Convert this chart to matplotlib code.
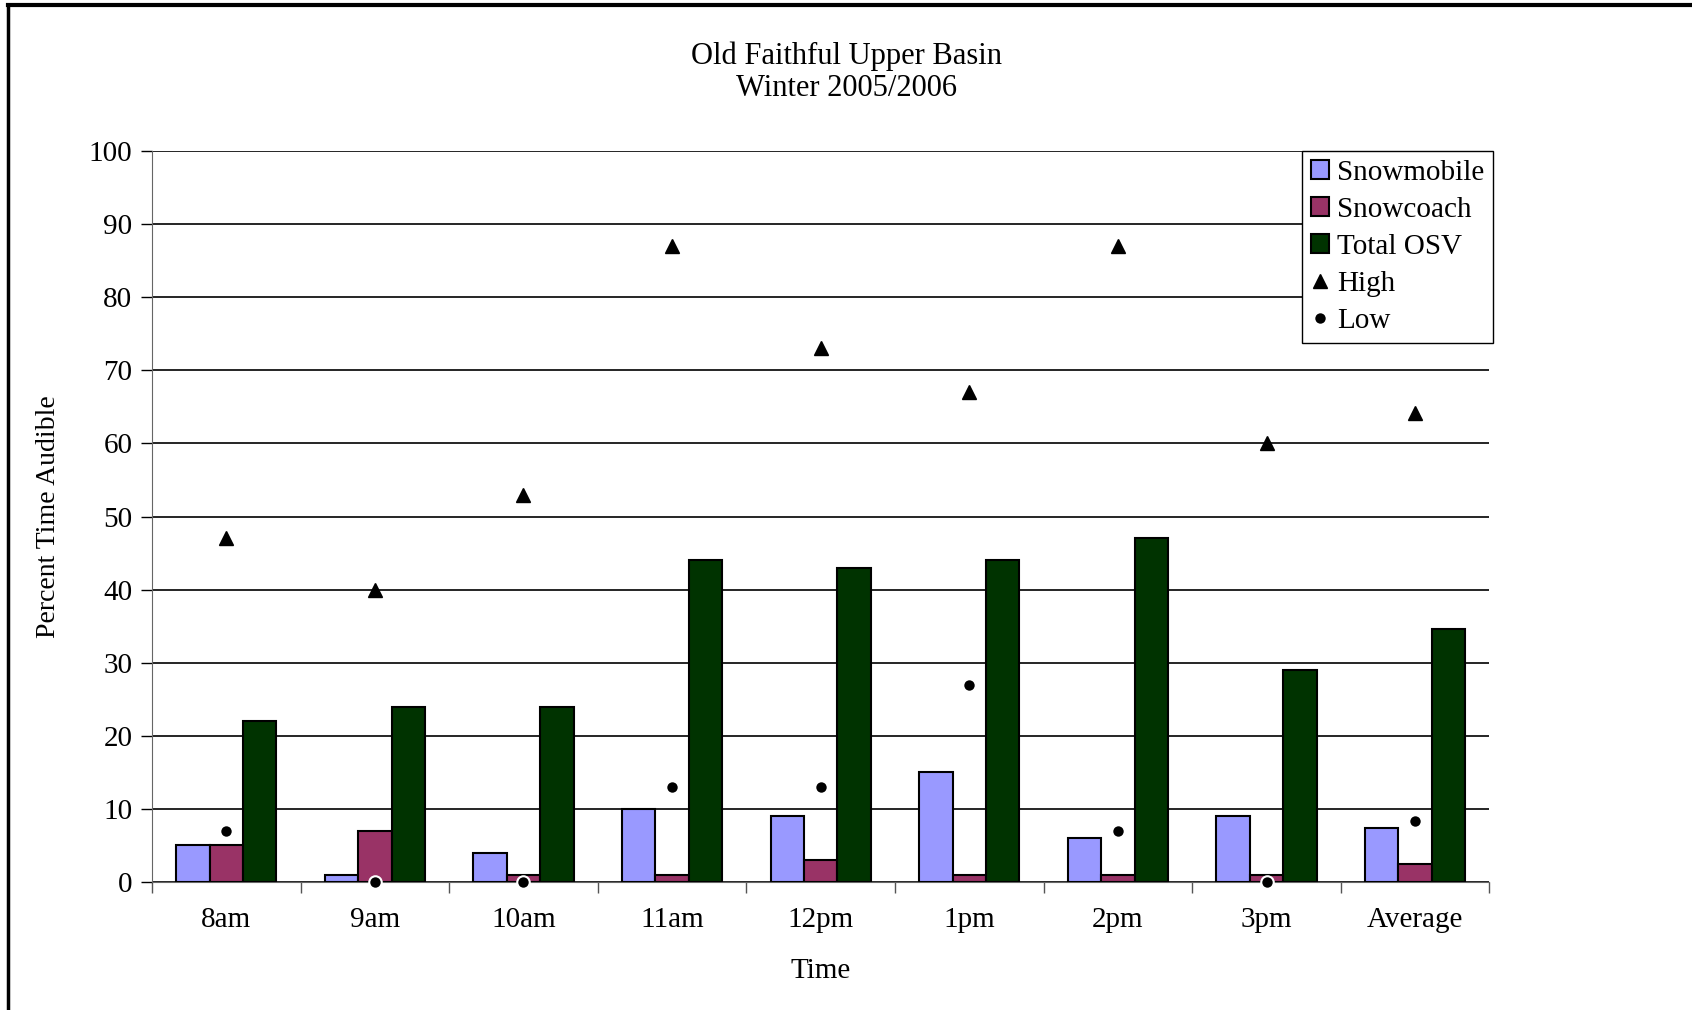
import matplotlib.pyplot as plt
import matplotlib.lines as mlines
import numpy as np

times = ['8am', '9am', '10am', '11am', '12pm', '1pm', '2pm', '3pm', 'Average']
snowmobile = [5, 1, 4, 10, 9, 15, 6, 9, 7.4]
snowcoach = [5, 7, 1, 1, 3, 1, 1, 1, 2.5]
total_osv = [22, 24, 24, 44, 43, 44, 47, 29, 34.6]
high = [47, 40, 53, 87, 73, 67, 87, 60, 64.2]
low = [7, 0, 0, 13, 13, 27, 7, 0, 8.4]

plt.rcParams['font.family'] = ['Liberation Serif', 'DejaVu Serif']

fig = plt.figure(figsize=(16.92, 10.10), dpi=100)
ax = fig.add_axes([0.0898, 0.1267, 0.7905, 0.7238])

x = np.arange(len(times))
w = 0.225
b1 = ax.bar(x - w, snowmobile, w, color='#9999FF', edgecolor='black', linewidth=1.5, label='Snowmobile', zorder=3)
b2 = ax.bar(x, snowcoach, w, color='#993366', edgecolor='black', linewidth=1.5, label='Snowcoach', zorder=3)
b3 = ax.bar(x + w, total_osv, w, color='#003300', edgecolor='black', linewidth=1.5, label='Total OSV', zorder=3)
h1, = ax.plot(x, high, linestyle='none', marker='^', markersize=10, color='black', label='High', zorder=4, clip_on=False)
h2, = ax.plot(x, low, linestyle='none', marker='o', markersize=9, color='black', markeredgecolor='white',
              markeredgewidth=1.5, label='Low', zorder=4, clip_on=False)

ax.set_xlim(-0.5, len(times) - 0.5)
ax.set_ylim(0, 100)
ax.set_yticks(range(0, 101, 10))
ax.yaxis.grid(True, color='black', linewidth=1.2, zorder=0)
ax.set_axisbelow(True)

ax.set_xticks(np.arange(len(times) + 1) - 0.5)
ax.set_xticklabels([])
ax.set_xticks(x, minor=True)
ax.set_xticklabels(times, minor=True)
ax.tick_params(axis='x', which='major', length=8, width=1, color='#555555')
ax.tick_params(axis='x', which='minor', length=0, pad=18, labelsize=21)
ax.tick_params(axis='y', length=8, width=1, color='black', labelsize=21, pad=6)

for s in ['top', 'right']:
    ax.spines[s].set_visible(False)
ax.spines['left'].set_color('#666666')
ax.spines['bottom'].set_color('#666666')

ax.set_xlabel('Time', fontsize=21, labelpad=18)
ax.set_ylabel('Percent Time Audible', fontsize=20, labelpad=20)

fig.text(0.5, 0.944, 'Old Faithful Upper Basin', ha='center', va='center', fontsize=22)
fig.text(0.5, 0.912, 'Winter 2005/2006', ha='center', va='center', fontsize=22)

leg = ax.legend([b1, b2, b3, h1, h2], ['Snowmobile', 'Snowcoach', 'Total OSV', 'High', 'Low'],
                loc='upper right', bbox_to_anchor=(1.003, 1.0), fontsize=21, frameon=True, framealpha=1,
                fancybox=False, edgecolor='black', handlelength=0.6, handleheight=0.6,
                handletextpad=0.3, borderpad=0.3, labelspacing=0.38, borderaxespad=0)
leg.get_frame().set_linewidth(1.0)
leg.set_zorder(10)

fig.add_artist(mlines.Line2D([0.0047, 1.0], [0.9955, 0.9955], color='black', linewidth=3, transform=fig.transFigure))
fig.add_artist(mlines.Line2D([0.0047, 0.0047], [0.0, 0.9955], color='black', linewidth=2.5, transform=fig.transFigure))

fig.savefig('out.png', dpi=100)
